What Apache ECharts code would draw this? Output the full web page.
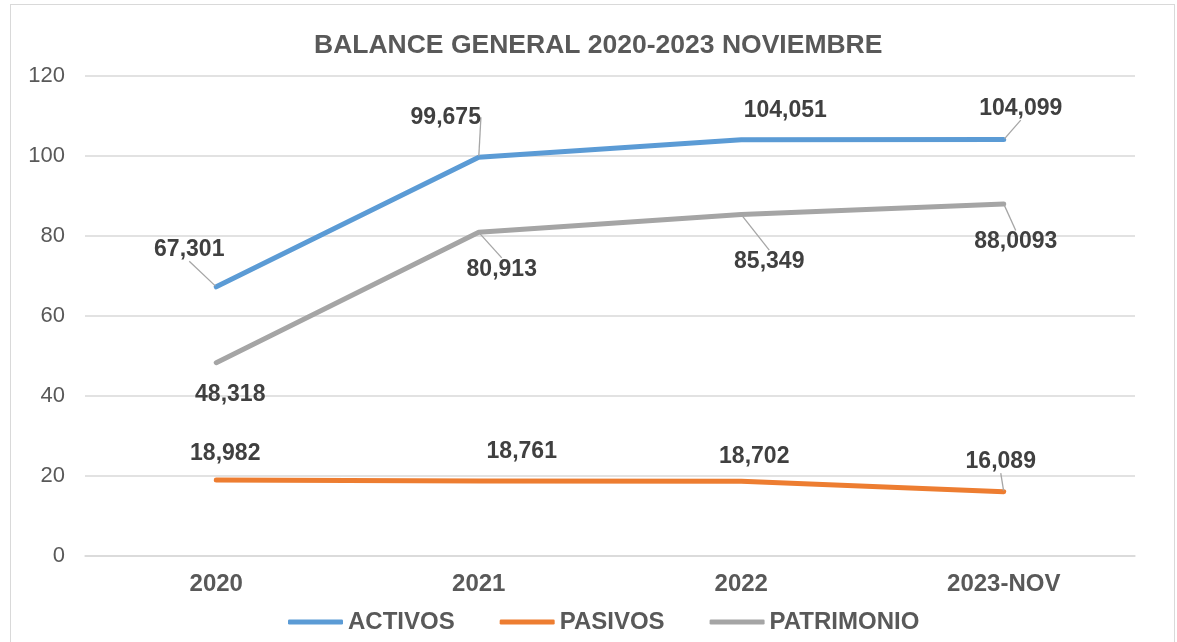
<!DOCTYPE html>
<html><head><meta charset="utf-8">
<script src="https://cdn.jsdelivr.net/npm/echarts@6/dist/echarts.min.js"></script>
<style>
html,body{margin:0;padding:0;background:#fff;}
#wrap{position:absolute;left:10px;top:4px;width:1165px;height:645px;border:1px solid #d9d9d9;box-sizing:border-box;}
#c{position:absolute;left:0;top:0;width:1177px;height:642px;}
</style></head>
<body>
<div id="wrap"></div>
<div id="c"></div>
<script>
const categories = ['2020', '2021', '2022', '2023-NOV'];
const activos = [67.301, 99.675, 104.051, 104.099];
const pasivos = [18.982, 18.761, 18.702, 16.089];
const patrimonio = [48.318, 80.913, 85.349, 88.0093];
const yTicks = { min: 0, max: 120, interval: 20 };

// label placement (offsets from point, px) and whether a leader line is drawn
const activosOff = [[-27, -37], [-33, -40], [44, -29], [17, -31]];
const activosLead = [true, true, false, true];
const pasivosOff = [[9, -26], [43, -29], [13, -25], [-3, -30]];
const pasivosLead = [false, false, false, true];
const patrimonioOff = [[14, 32], [23, 37], [28, 47], [12, 38]];
const patrimonioLead = [false, true, true, true];

const FONT = 'Liberation Sans, Arial, sans-serif';
const fmt = v => String(v).replace('.', ',');

function mkSeries(name, vals, color, offs, leads) {
  return {
    name: name,
    type: 'line',
    data: vals.map((v, i) => ({ value: v, labelLine: { show: leads[i] } })),
    symbol: 'circle',
    symbolSize: 2,
    showSymbol: true,
    itemStyle: { color: color },
    lineStyle: { color: color, width: 5, cap: 'round', join: 'round' },
    label: {
      show: true,
      position: 'inside',
      formatter: p => fmt(p.value),
      fontFamily: FONT,
      fontWeight: 'bold',
      fontSize: 23,
      color: '#404040',
      align: 'center',
      verticalAlign: 'middle'
    },
    labelLine: { show: false, lineStyle: { color: '#a6a6a6', width: 1.3 } },
    labelLayout: p => ({ dx: offs[p.dataIndex][0], dy: offs[p.dataIndex][1], hideOverlap: false }),
    emphasis: { disabled: true },
    animation: false
  };
}

const chart = echarts.init(document.getElementById('c'));
chart.setOption({
  backgroundColor: 'transparent',
  animation: false,
  title: {
    text: 'BALANCE GENERAL 2020-2023 NOVIEMBRE',
    left: 309,
    top: 27,
    textStyle: { fontFamily: FONT, fontWeight: 'bold', fontSize: 26.5, color: '#595959' }
  },
  legend: {
    bottom: 3,
    left: 283,
    itemWidth: 55,
    itemHeight: 5,
    itemGap: 45,
    icon: 'roundRect',
    textStyle: { fontFamily: FONT, fontWeight: 'bold', fontSize: 24, color: '#595959' },
    data: ['ACTIVOS', 'PASIVOS', 'PATRIMONIO']
  },
  grid: { left: 85, right: 42, top: 76, bottom: 86, containLabel: false },
  xAxis: {
    type: 'category',
    data: categories,
    boundaryGap: true,
    axisLine: { show: true, lineStyle: { color: '#d9d9d9', width: 1.5 } },
    axisTick: { show: false },
    axisLabel: { margin: 16, fontFamily: FONT, fontWeight: 'bold', fontSize: 24, color: '#595959' }
  },
  yAxis: {
    type: 'value',
    min: yTicks.min, max: yTicks.max, interval: yTicks.interval,
    axisLine: { show: false },
    axisTick: { show: false },
    splitLine: { lineStyle: { color: '#d9d9d9', width: 1.5 } },
    axisLabel: { margin: 20, fontFamily: FONT, fontSize: 22, color: '#595959' }
  },
  series: [
    mkSeries('ACTIVOS', activos, '#5b9bd5', activosOff, activosLead),
    mkSeries('PASIVOS', pasivos, '#ed7d31', pasivosOff, pasivosLead),
    mkSeries('PATRIMONIO', patrimonio, '#a5a5a5', patrimonioOff, patrimonioLead)
  ]
});
</script>
</body></html>
